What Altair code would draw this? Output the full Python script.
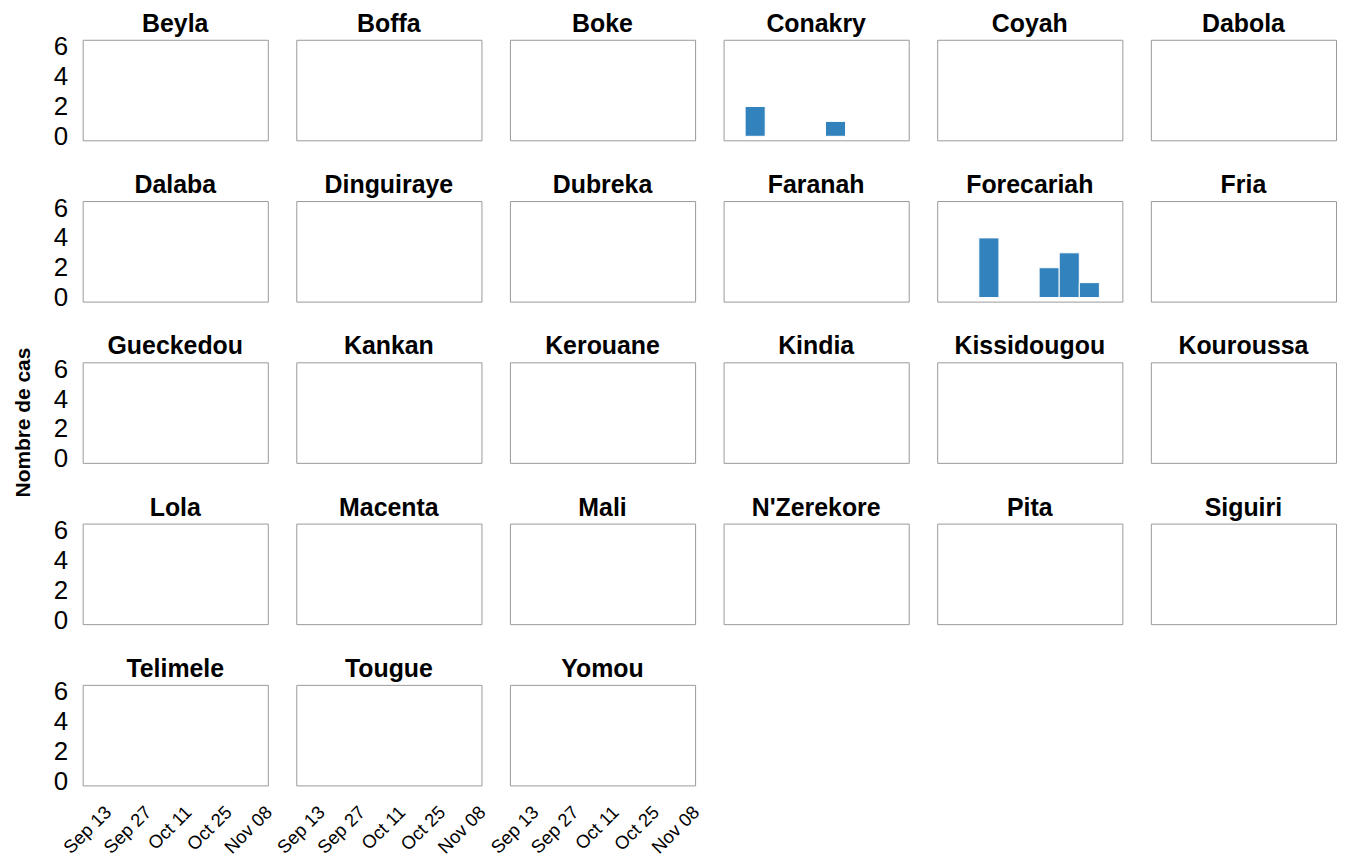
import altair as alt
import pandas as pd

districts = ["Beyla", "Boffa", "Boke", "Conakry", "Coyah", "Dabola",
             "Dalaba", "Dinguiraye", "Dubreka", "Faranah", "Forecariah", "Fria",
             "Gueckedou", "Kankan", "Kerouane", "Kindia", "Kissidougou", "Kouroussa",
             "Lola", "Macenta", "Mali", "N'Zerekore", "Pita", "Siguiri",
             "Telimele", "Tougue", "Yomou"]

conakry_weeks = ["2014-09-14", "2014-10-12"]
conakry_cases = [2, 1]
forecariah_weeks = ["2014-09-21", "2014-10-12", "2014-10-19", "2014-10-26"]
forecariah_cases = [4, 2, 3, 1]

y_ticks = [0, 2, 4, 6]
x_tick_dates = [(2014, 9, 13), (2014, 9, 27), (2014, 10, 11), (2014, 10, 25), (2014, 11, 8)]

rows = []
for d, weeks, cases in [("Conakry", conakry_weeks, conakry_cases),
                        ("Forecariah", forecariah_weeks, forecariah_cases)]:
    for w, c in zip(weeks, cases):
        start = pd.Timestamp(w)
        end = start + pd.Timedelta(days=7)
        rows.append({"district": d, "start": start.strftime("%Y-%m-%d"),
                     "end": end.strftime("%Y-%m-%d"), "cases": c})
df = pd.DataFrame(rows)

x_domain = [alt.DateTime(year=2014, month=9, date=6, hours=12, utc=True),
            alt.DateTime(year=2014, month=11, date=10, utc=True)]
x_values = [alt.DateTime(year=y, month=m, date=dd, utc=True) for y, m, dd in x_tick_dates]

ncol = 6
base_offset = -22
panels = []
for i, d in enumerate(districts):
    col = i % ncol
    is_bottom = i >= len(districts) - 3
    if is_bottom:
        x_axis = alt.Axis(values=x_values, format="%b %d", labelAngle=-45,
                          labelFontSize=18.5, labelPadding=17, ticks=False,
                          domain=False, grid=False, title="", labelColor="#000000",
                          labelOverlap=False)
    else:
        x_axis = None
    offset = base_offset
    if col == 0:
        y_axis = alt.Axis(values=y_ticks, labelFontSize=26, labelPadding=15,
                          ticks=False, domain=False, grid=False,
                          title=("Nombre de cas" if d == "Gueckedou" else ""),
                          titleFontSize=21, titleFontWeight="bold",
                          titlePadding=20, titleY=60, labelColor="#000000",
                          labelFlush=False)
        offset = base_offset - (15 if d == "Gueckedou" else 6)
    else:
        y_axis = None
    x_enc = alt.X("start:T", axis=x_axis,
                  scale=alt.Scale(type="utc", domain=x_domain))
    y_enc = alt.Y("cases:Q", axis=y_axis,
                  scale=alt.Scale(domain=[-0.27, 6.47], nice=False, zero=False))
    ch = (alt.Chart(df)
          .transform_filter(alt.datum.district == d)
          .mark_bar(color="#3182bd", stroke="#ffffff", strokeWidth=1)
          .encode(x=x_enc, x2="end:T", y=y_enc, y2=alt.datum(0))
          .properties(width=186, height=101,
                      title=alt.TitleParams(d, fontSize=25, fontWeight="bold",
                                            baseline="bottom", offset=offset,
                                            anchor="middle", color="#000000")))
    panels.append(ch)

chart = (alt.concat(*panels, columns=ncol, spacing={"row": 61, "column": 28.6},
                    bounds="flush")
         .properties(padding={"left": 4, "top": 1, "right": 0, "bottom": 0})
         .configure(font="Liberation Sans")
         .configure_view(stroke="#999999", strokeWidth=1)
         .configure_axis(labelFont="Liberation Sans", titleFont="Liberation Sans"))

chart.save("out.html", embed_options={"renderer": "svg", "actions": False})
